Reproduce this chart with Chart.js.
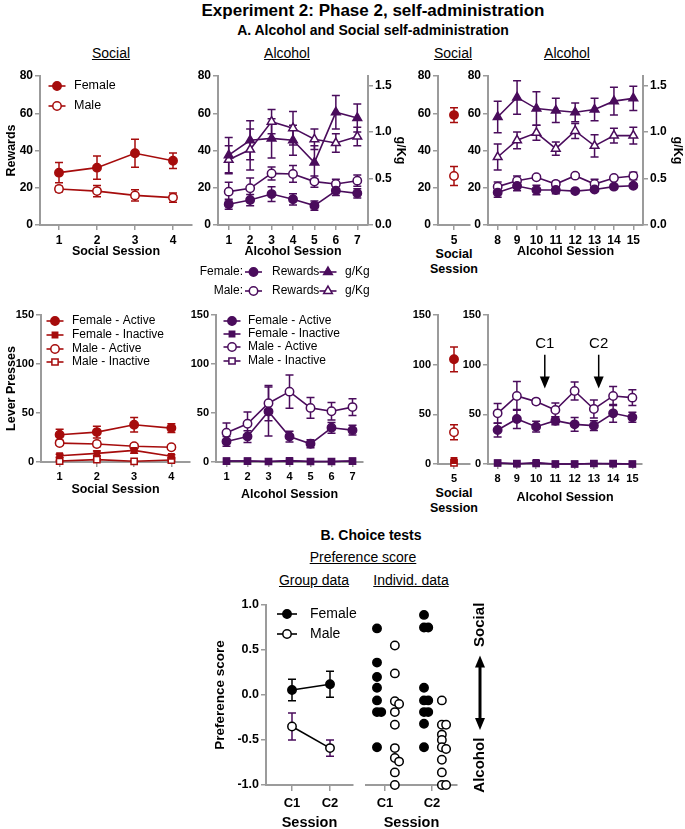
<!DOCTYPE html>
<html>
<head>
<meta charset="utf-8">
<title>Experiment 2: Phase 2, self-administration</title>
<script src="https://cdn.jsdelivr.net/npm/chart.js@4.4.1/dist/chart.umd.min.js"></script>
<style>
  body { margin: 0; background: #fff; }
  #page { position: relative; width: 685px; height: 829px; overflow: hidden; font-family: "Liberation Sans", Arial, sans-serif; color: #000; }
  #page canvas { position: absolute; }
  .t { position: absolute; transform: translate(-50%, -50%); white-space: nowrap; line-height: 1; }
</style>
</head>
<body>
<div id="page"></div>
<script>
// ---------- data ----------
const socialSessions = ['1', '2', '3', '4'];
const alcSessionsA = ['1', '2', '3', '4', '5', '6', '7'];
const socialSessionsB = ['5'];
const alcSessionsB = ['8', '9', '10', '11', '12', '13', '14', '15'];
const choiceSessions = ['C1', 'C2'];
const choiceTestAt = [10.45, 13.25];   // session position of the choice tests

const rewardTicks = [0, 20, 40, 60, 80];
const gkgTicks = [0, 0.5, 1.0, 1.5];
const leverTicks = [0, 50, 100, 150];
const prefTicks = [-1, -0.5, 0, 0.5, 1];

// rewards - social sessions 1-4
const socFemRew = [28.1, 30.8, 38.5, 34.5];
const socFemRewErr = [5.4, 6.3, 7.5, 4.2];
const socMaleRew = [19.3, 18.2, 15.9, 14.7];
const socMaleRewErr = [1.5, 3, 3, 2.5];

// rewards + g/kg - alcohol sessions 1-7
const alcFemRew = [11.1, 13.4, 16.6, 13.8, 10.4, 18.4, 17];
const alcFemRewErr = [2.7, 3, 4, 3, 2.5, 2.5, 2.5];
const alcMaleRew = [17.9, 19.7, 27.7, 27.4, 23.3, 22, 23.8];
const alcMaleRewErr = [5, 5.5, 3.5, 4.5, 3, 2.5, 3];
const alcFemGkg = [0.75, 0.91, 0.93, 0.91, 0.67, 1.21, 1.15];
const alcFemGkgErr = [0.19, 0.21, 0.21, 0.16, 0.18, 0.18, 0.15];
const alcMaleGkg = [0.70, 0.81, 1.11, 1.04, 0.92, 0.88, 0.95];
const alcMaleGkgErr = [0.15, 0.22, 0.13, 0.18, 0.11, 0.10, 0.10];

// rewards - social session 5
const soc5FemRew = [59];
const soc5FemRewErr = [3.9];
const soc5MaleRew = [26.3];
const soc5MaleRewErr = [5.1];

// rewards + g/kg - alcohol sessions 8-15
const alcBFemRew = [17.4, 20.9, 18.8, 18.8, 18.2, 19.1, 20.6, 21.1];
const alcBFemRewErr = [2.5, 2.5, 2.5, 2, 1, 1, 1, 1];
const alcBMaleRew = [20.6, 23.8, 25.6, 22, 26.5, 22, 25.2, 26.3];
const alcBMaleRewErr = [2.5, 2.5, 1, 1.5, 1, 2.5, 1, 2];
const alcBFemGkg = [1.16, 1.37, 1.25, 1.23, 1.21, 1.24, 1.33, 1.36];
const alcBFemGkgErr = [0.17, 0.18, 0.18, 0.13, 0.10, 0.12, 0.15, 0.13];
const alcBMaleGkg = [0.73, 0.91, 0.99, 0.82, 1.01, 0.85, 0.96, 0.96];
const alcBMaleGkgErr = [0.14, 0.09, 0.08, 0.07, 0.08, 0.12, 0.08, 0.09];

// lever presses - social sessions 1-4
const socFemAct = [27.8, 30.5, 38, 34.6];
const socFemActErr = [5.5, 6, 7.5, 4.5];
const socFemInact = [6.4, 8.8, 11.9, 5.8];
const socFemInactErr = [1.5, 2.5, 3, 1.5];
const socMaleAct = [19.3, 18.3, 16, 15];
const socMaleActErr = [2, 2.5, 2.5, 2];
const socMaleInact = [1, 2.4, 0.7, 2];
const socMaleInactErr = [0.5, 1, 0.5, 1];

// lever presses - alcohol sessions 1-7
const alcFemAct = [21, 26, 51.5, 26, 18.6, 34.9, 32.5];
const alcFemActErr = [5, 6, 25, 5.5, 4, 5.5, 5];
const alcFemInact = [1, 1, 0.5, 1.5, 0.5, 0.5, 1];
const alcMaleAct = [29.8, 39, 60, 71.8, 55.2, 51.8, 56];
const alcMaleActErr = [10, 12, 18, 17, 10.5, 9, 8.5];
const alcMaleInact = [1, 1, 0.5, 1, 0.5, 0.5, 1];

// lever presses - social session 5
const soc5FemAct = [105.4];
const soc5FemActErr = [12.5];
const soc5FemInact = [3.5];
const soc5MaleAct = [31.9];
const soc5MaleActErr = [7.5];
const soc5MaleInact = [1.2];

// lever presses - alcohol sessions 8-15
const alcBFemAct = [34.2, 45.3, 37.6, 43.6, 39.9, 38.6, 51, 47];
const alcBFemActErr = [7, 9.5, 5.5, 4, 7, 5, 9, 5];
const alcBFemInact = [1, 0, 1.5, 0, 0, 0.5, 0, 0];
const alcBMaleAct = [51, 68.5, 62.8, 54.4, 73.5, 55.4, 68.5, 66.8];
const alcBMaleActErr = [10, 14.5, 2.5, 7, 9, 9, 9.5, 8];
const alcBMaleInact = [1, 0.5, 0.5, 0, 0, 0.5, 0.5, 0];

// choice tests - preference score
const prefFem = [0.056, 0.12];
const prefFemErr = [0.12, 0.145];
const prefMale = [-0.35, -0.59];
const prefMaleErr = [0.15, 0.09];
const indFemC1 = [0.74, 0.36, 0.2, 0.08, -0.06, -0.19, -0.19, -0.58];
const indMaleC1 = [0.55, 0.24, -0.07, -0.1, -0.19, -0.33, -0.59, -0.7, -0.74, -0.86, -1.0];
const indFemC2 = [0.89, 0.75, 0.75, 0.08, -0.06, -0.06, -0.19, -0.19, -0.32, -0.58];
const indMaleC2 = [-0.06, -0.33, -0.33, -0.44, -0.5, -0.58, -0.6, -0.72, -0.86, -1.0, -1.0];

// ---------- style ----------
const RED = '#a60c0c';
const PURPLE = '#4a0c5c';
const BLACK = '#000';
const AXIS = '#9b9b9b';
const FONT = '"Liberation Sans", Arial, sans-serif';
const RADIUS = { circle: 4.2, triangle: 5, rect: 4.4 };

Chart.defaults.font.family = FONT;
Chart.defaults.color = '#000';

const page = document.getElementById('page');

function label(text, x, y, css) {
  const d = document.createElement('div');
  d.className = 't';
  d.textContent = text;
  d.style.left = x + 'px';
  d.style.top = y + 'px';
  Object.assign(d.style, css);
  page.appendChild(d);
}

// error bars (mean +- SEM) drawn through the dataset's own y scale
const errorBars = {
  id: 'errorBars',
  beforeDatasetsDraw(chart) {
    const ctx = chart.ctx;
    chart.data.datasets.forEach((ds, i) => {
      if (!ds.err) return;
      const meta = chart.getDatasetMeta(i);
      const ys = chart.scales[meta.yAxisID];
      ctx.save();
      ctx.strokeStyle = ds.errColor || ds.borderColor;
      ctx.lineWidth = 1.5;
      meta.data.forEach((pt, j) => {
        const e = ds.err[j];
        if (!e) return;
        const d = ds.data[j];
        const v = typeof d === 'object' ? d.y : d;
        const top = ys.getPixelForValue(v + e), bot = ys.getPixelForValue(v - e);
        ctx.beginPath();
        ctx.moveTo(pt.x, top); ctx.lineTo(pt.x, bot);
        ctx.moveTo(pt.x - 4, top); ctx.lineTo(pt.x + 4, top);
        ctx.moveTo(pt.x - 4, bot); ctx.lineTo(pt.x + 4, bot);
        ctx.stroke();
      });
      ctx.restore();
    });
  }
};

// small GraphPad-like keys (line + marker, text)
const keys = {
  id: 'keys',
  afterDraw(chart, args, o) {
    if (!o.items) return;
    const ctx = chart.ctx;
    o.items.forEach(it => {
      const x = it.x - o.ox, y = it.y - o.oy;
      ctx.save();
      if (it.ds !== undefined) {
        const ds = chart.data.datasets[it.ds];
        const w = it.w || 8.5;
        ctx.strokeStyle = ds.borderColor;
        ctx.lineWidth = ds.borderWidth;
        ctx.beginPath(); ctx.moveTo(x - w, y); ctx.lineTo(x + w, y); ctx.stroke();
        ctx.fillStyle = ds.pointBackgroundColor;
        ctx.strokeStyle = ds.pointBorderColor;
        ctx.lineWidth = ds.pointBorderWidth;
        Chart.helpers.drawPoint(ctx, { pointStyle: ds.pointStyle, radius: ds.pointRadius, borderWidth: ds.pointBorderWidth, rotation: 0 }, x, y);
      } else {
        ctx.fillStyle = '#000';
        ctx.font = o.font;
        ctx.textAlign = it.align || 'left';
        ctx.textBaseline = 'middle';
        ctx.fillText(it.text, x, y);
      }
      ctx.restore();
    });
  }
};

// arrows: choice-test markers and the Social/Alcohol direction arrow
const marks = {
  id: 'marks',
  afterDatasetsDraw(chart, args, o) {
    const { ctx, chartArea, scales } = chart;
    (o.arrows || []).forEach(a => {
      const x = scales.x.getPixelForValue(a.at);
      const yt = scales.y.getPixelForValue(a.textAt);
      const y0 = scales.y.getPixelForValue(a.from), y1 = scales.y.getPixelForValue(a.to);
      ctx.save();
      ctx.fillStyle = '#000'; ctx.strokeStyle = '#000'; ctx.lineWidth = 1.5;
      ctx.font = '15px ' + FONT; ctx.textAlign = 'center'; ctx.textBaseline = 'middle';
      ctx.fillText(a.text, x, yt);
      ctx.beginPath(); ctx.moveTo(x, y0); ctx.lineTo(x, y1 - 8); ctx.stroke();
      ctx.beginPath(); ctx.moveTo(x - 5, y1 - 12); ctx.lineTo(x + 5, y1 - 12); ctx.lineTo(x, y1); ctx.closePath(); ctx.fill();
      ctx.restore();
    });
    if (o.direction) {
      const d = o.direction;
      const x = chartArea.right + d.dx;
      const ya = scales.y.getPixelForValue(d.from), yb = scales.y.getPixelForValue(d.to);
      ctx.save();
      ctx.fillStyle = '#000'; ctx.strokeStyle = '#000'; ctx.lineWidth = 3;
      ctx.beginPath(); ctx.moveTo(x, ya + 10); ctx.lineTo(x, yb - 10); ctx.stroke();
      ctx.beginPath(); ctx.moveTo(x - 5, ya + 12); ctx.lineTo(x + 5, ya + 12); ctx.lineTo(x, ya); ctx.closePath(); ctx.fill();
      ctx.beginPath(); ctx.moveTo(x - 5, yb - 12); ctx.lineTo(x + 5, yb - 12); ctx.lineTo(x, yb); ctx.closePath(); ctx.fill();
      ctx.font = 'bold 15px ' + FONT; ctx.textAlign = 'center'; ctx.textBaseline = 'middle';
      d.labels.forEach(l => {
        ctx.save();
        ctx.translate(x, scales.y.getPixelForValue(l.at));
        ctx.rotate(-Math.PI / 2);
        ctx.fillText(l.text, 0, 0);
        ctx.restore();
      });
      ctx.restore();
    }
  }
};

function series(data, err, color, shape, filled, extra) {
  return Object.assign({
    data, err,
    borderColor: color, backgroundColor: color, borderWidth: 1.6,
    pointStyle: shape, pointRadius: RADIUS[shape], pointBorderWidth: 1.5,
    pointBorderColor: color, pointBackgroundColor: filled ? color : '#fff',
    clip: false, tension: 0, fill: false
  }, extra);
}

function titleOpt(t) {
  if (!t) return { display: false };
  return { display: true, text: t.text, color: '#000', font: { size: t.size, weight: 'bold' }, padding: { top: t.pad, bottom: t.pad } };
}

function yAxis(ticks, size, title, extra) {
  return Object.assign({
    type: 'linear', position: 'left', min: ticks[0], max: ticks[ticks.length - 1],
    afterBuildTicks: s => { s.ticks = ticks.map(v => ({ value: v })); },
    ticks: { color: '#000', font: { size, weight: 'bold' }, padding: 2, callback: extra && extra.fmt ? extra.fmt : v => String(v) },
    grid: { drawOnChartArea: false, color: AXIS, lineWidth: 1.5, tickLength: 5 },
    border: { color: AXIS, width: 2 },
    title: titleOpt(title)
  }, extra);
}

function catAxis(size, title) {
  return {
    type: 'category', offset: true,
    ticks: { color: '#000', font: { size, weight: 'bold' }, padding: 3, autoSkip: false, maxRotation: 0 },
    grid: { drawOnChartArea: false, offset: false, color: AXIS, lineWidth: 1.5, tickLength: 5 },
    border: { color: AXIS, width: 2 },
    title: titleOpt(title)
  };
}

function choiceAxis(min, max, title) {
  return {
    type: 'linear', min, max,
    afterBuildTicks: s => { s.ticks = choiceSessions.map((c, i) => ({ value: i + 1 })); },
    ticks: { color: '#000', font: { size: 13, weight: 'bold' }, padding: 5, callback: v => choiceSessions[v - 1] },
    grid: { drawOnChartArea: false, color: AXIS, lineWidth: 1.5, tickLength: 6 },
    border: { color: AXIS, width: 2 },
    title: titleOpt(title)
  };
}

// box: canvas [left, top, width, height] on the page; area: plot area [left, top, right, bottom]
function panel(box, area, o) {
  const [bx, by, bw, bh] = box;
  const cv = document.createElement('canvas');
  cv.width = bw; cv.height = bh;
  cv.style.left = bx + 'px'; cv.style.top = by + 'px';
  page.appendChild(cv);
  const yW = o.yW || 0, y2W = o.y2W || 0;
  const pad = {
    left: area[0] - bx - yW,
    top: area[1] - by,
    right: bx + bw - area[2] - y2W,
    bottom: by + bh - area[3] - o.xH
  };
  const scales = {};
  scales.x = Object.assign(o.x, { afterFit: s => { s.height = o.xH; } });
  scales.y = Object.assign(o.y, { afterFit: s => { s.width = yW; } });
  if (o.y2) scales.y2 = Object.assign(o.y2, { afterFit: s => { s.width = y2W; } });
  return new Chart(cv, {
    type: 'line',
    data: { labels: o.labels, datasets: o.datasets },
    options: {
      responsive: false, animation: false, events: [],
      layout: { padding: pad },
      scales,
      plugins: {
        legend: { display: false }, tooltip: { enabled: false },
        keys: { items: o.keys || [], ox: bx, oy: by, font: (o.keyFont || 12) + 'px ' + FONT },
        marks: o.marks || {}
      }
    },
    plugins: [errorBars, keys, marks]
  });
}

// ---------- headings ----------
label('Experiment 2: Phase 2, self-administration', 373, 10, { fontWeight: 'bold', fontSize: '17px' });
label('A. Alcohol and Social self-administration', 373, 30, { fontWeight: 'bold', fontSize: '14px' });
const under = { fontSize: '14px', textDecoration: 'underline' };
label('Social', 111, 53, under);
label('Alcohol', 287, 53, under);
label('Social', 453, 53, under);
label('Alcohol', 567, 53, under);
label('B. Choice tests', 371, 535, { fontWeight: 'bold', fontSize: '14px' });
label('Preference score', 363, 557, under);
label('Group data', 314, 580, under);
label('Individ. data', 411, 580, under);
// two-line axis titles of the narrow single-session panels
const axisTitle = { fontWeight: 'bold', fontSize: '12.5px' };
label('Social', 454, 254, axisTitle);
label('Session', 454, 269, axisTitle);
label('Social', 454, 493, axisTitle);
label('Session', 454, 508, axisTitle);

// ---------- A, rewards ----------
panel([0, 66, 200, 196], [40, 76, 192, 225], {
  yW: 40, xH: 37, labels: socialSessions,
  x: catAxis(12, { text: 'Social Session', size: 12.5, pad: 2.5 }),
  y: yAxis(rewardTicks, 12, { text: 'Rewards', size: 12.5, pad: 4.5 }),
  datasets: [
    series(socFemRew, socFemRewErr, RED, 'circle', true),
    series(socMaleRew, socMaleRewErr, RED, 'circle', false)
  ],
  keyFont: 12.5,
  keys: [
    { ds: 0, x: 57, y: 86 }, { text: 'Female', x: 74, y: 86 },
    { ds: 1, x: 57, y: 106 }, { text: 'Male', x: 74, y: 106 }
  ]
});

panel([192, 66, 218, 234], [218, 76, 368, 225], {
  yW: 26, y2W: 42, xH: 37, labels: alcSessionsA,
  x: catAxis(12, { text: 'Alcohol Session', size: 12.5, pad: 2.5 }),
  y: yAxis(rewardTicks, 12),
  y2: yAxis(gkgTicks, 12, { text: 'g/Kg', size: 12.5, pad: 2.5 }, { position: 'right', max: 1.6, fmt: v => v.toFixed(1) }),
  datasets: [
    series(alcFemRew, alcFemRewErr, PURPLE, 'circle', true),
    series(alcMaleRew, alcMaleRewErr, PURPLE, 'circle', false),
    series(alcFemGkg, alcFemGkgErr, PURPLE, 'triangle', true, { yAxisID: 'y2' }),
    series(alcMaleGkg, alcMaleGkgErr, PURPLE, 'triangle', false, { yAxisID: 'y2' })
  ],
  keys: [
    { text: 'Female:', x: 243, y: 272, align: 'right' }, { ds: 0, x: 253.5, y: 272 },
    { text: 'Rewards', x: 272, y: 272 }, { ds: 2, x: 328, y: 272 }, { text: 'g/Kg', x: 345, y: 272 },
    { text: 'Male:', x: 243, y: 291, align: 'right' }, { ds: 1, x: 253.5, y: 291 },
    { text: 'Rewards', x: 272, y: 291 }, { ds: 3, x: 328, y: 291 }, { text: 'g/Kg', x: 345, y: 291 }
  ]
});

panel([410, 66, 68, 214], [438, 76, 470, 225], {
  yW: 28, xH: 55, labels: socialSessionsB,
  x: catAxis(12),
  y: yAxis(rewardTicks, 12),
  datasets: [
    series(soc5FemRew, soc5FemRewErr, RED, 'circle', true),
    series(soc5MaleRew, soc5MaleRewErr, RED, 'circle', false)
  ]
});

panel([462, 66, 223, 196], [488, 76, 643, 225], {
  yW: 26, y2W: 42, xH: 37, labels: alcSessionsB,
  x: catAxis(12, { text: 'Alcohol Session', size: 12.5, pad: 2.5 }),
  y: yAxis(rewardTicks, 12),
  y2: yAxis(gkgTicks, 12, { text: 'g/Kg', size: 12.5, pad: 0 }, { position: 'right', max: 1.6, fmt: v => v.toFixed(1) }),
  datasets: [
    series(alcBFemRew, alcBFemRewErr, PURPLE, 'circle', true),
    series(alcBMaleRew, alcBMaleRewErr, PURPLE, 'circle', false),
    series(alcBFemGkg, alcBFemGkgErr, PURPLE, 'triangle', true, { yAxisID: 'y2' }),
    series(alcBMaleGkg, alcBMaleGkgErr, PURPLE, 'triangle', false, { yAxisID: 'y2' })
  ]
});

// ---------- A, lever presses ----------
const leverKeys = (mx, tx, ys) => [
  { ds: 0, x: mx, y: ys[0] }, { text: 'Female - Active', x: tx, y: ys[0] },
  { ds: 1, x: mx, y: ys[1] }, { text: 'Female - Inactive', x: tx, y: ys[1] },
  { ds: 2, x: mx, y: ys[2] }, { text: 'Male - Active', x: tx, y: ys[2] },
  { ds: 3, x: mx, y: ys[3] }, { text: 'Male - Inactive', x: tx, y: ys[3] }
];

panel([0, 305, 200, 195], [41, 315, 190, 462], {
  yW: 41, xH: 38, labels: socialSessions,
  x: catAxis(11, { text: 'Social Session', size: 12.5, pad: 2.5 }),
  y: yAxis(leverTicks, 11, { text: 'Lever Presses', size: 12.5, pad: 4.5 }),
  datasets: [
    series(socFemAct, socFemActErr, RED, 'circle', true),
    series(socFemInact, socFemInactErr, RED, 'rect', true, { pointRadius: 3.8 }),
    series(socMaleAct, socMaleActErr, RED, 'circle', false),
    series(socMaleInact, socMaleInactErr, RED, 'rect', false)
  ],
  keys: leverKeys(55, 72, [321, 335, 349, 362])
});

panel([190, 305, 195, 200], [216, 315, 363, 462], {
  yW: 26, xH: 43, labels: alcSessionsA,
  x: catAxis(11, { text: 'Alcohol Session', size: 12.5, pad: 2.5 }),
  y: yAxis(leverTicks, 11),
  datasets: [
    series(alcFemAct, alcFemActErr, PURPLE, 'circle', true),
    series(alcFemInact, null, PURPLE, 'rect', true, { pointRadius: 3.8 }),
    series(alcMaleAct, alcMaleActErr, PURPLE, 'circle', false),
    series(alcMaleInact, null, PURPLE, 'rect', false)
  ],
  keys: leverKeys(232, 248, [321, 334, 347, 361])
});

panel([410, 305, 68, 212], [438, 315, 470, 464], {
  yW: 28, xH: 53, labels: socialSessionsB,
  x: catAxis(11),
  y: yAxis(leverTicks, 11),
  datasets: [
    series(soc5FemAct, soc5FemActErr, RED, 'circle', true),
    series(soc5FemInact, null, RED, 'rect', true, { pointRadius: 3.8 }),
    series(soc5MaleAct, soc5MaleActErr, RED, 'circle', false),
    series(soc5MaleInact, null, RED, 'rect', false)
  ]
});

panel([462, 305, 223, 203], [488, 315, 642, 464], {
  yW: 26, xH: 44, labels: alcSessionsB,
  x: catAxis(11, { text: 'Alcohol Session', size: 12.5, pad: 2.5 }),
  y: yAxis(leverTicks, 11),
  datasets: [
    series(alcBFemAct, alcBFemActErr, PURPLE, 'circle', true),
    series(alcBFemInact, null, PURPLE, 'rect', true, { pointRadius: 3.8 }),
    series(alcBMaleAct, alcBMaleActErr, PURPLE, 'circle', false),
    series(alcBMaleInact, null, PURPLE, 'rect', false)
  ],
  marks: {
    arrows: choiceTestAt.map((s, i) => ({
      at: s - Number(alcSessionsB[0]), text: choiceSessions[i], textAt: 121, from: 110, to: 76
    }))
  }
});

// ---------- B, choice tests ----------
panel([200, 595, 160, 234], [266, 605, 353, 785], {
  yW: 66, xH: 44,
  x: choiceAxis(0.316, 2.605, { text: 'Session', size: 14.5, pad: -3 }),
  y: yAxis(prefTicks, 12.5, { text: 'Preference score', size: 13.5, pad: 12 }, { fmt: v => v.toFixed(1) }),
  datasets: [
    series(prefFem.map((v, i) => ({ x: i + 1, y: v })), prefFemErr, BLACK, 'circle', true),
    series(prefMale.map((v, i) => ({ x: i + 1, y: v })), prefMaleErr, BLACK, 'circle', false, { errColor: PURPLE })
  ],
  keyFont: 14,
  keys: [
    { ds: 0, x: 287, y: 614, w: 10 }, { text: 'Female', x: 310, y: 614 },
    { ds: 1, x: 287, y: 634, w: 10 }, { text: 'Male', x: 310, y: 634 }
  ]
});

// individual scores: each group sits beside the session tick, repeated scores are set side by side
function spread(groups, shift) {
  const pts = [];
  groups.forEach((vals, i) => {
    const seen = [];
    vals.forEach(v => {
      const n = seen.filter(s => Math.abs(s - v) < 0.05).length;
      seen.push(v);
      pts.push({ x: i + 1 + shift + n * 0.09, y: v });
    });
  });
  return pts;
}

panel([360, 595, 140, 234], [366, 605, 457, 785], {
  yW: 0, xH: 44,
  x: choiceAxis(0.596, 2.532, { text: 'Session', size: 14.5, pad: -3 }),
  y: yAxis(prefTicks, 12, null, { display: false }),
  datasets: [
    series(spread([indFemC1, indFemC2], -0.17), null, BLACK, 'circle', true, { showLine: false }),
    series(spread([indMaleC1, indMaleC2], 0.21), null, BLACK, 'circle', false, { showLine: false })
  ],
  marks: {
    direction: {
      dx: 23, from: 0.44, to: -0.39,
      labels: [{ text: 'Social', at: 0.78 }, { text: 'Alcohol', at: -0.78 }]
    }
  }
});
</script>
</body>
</html>
